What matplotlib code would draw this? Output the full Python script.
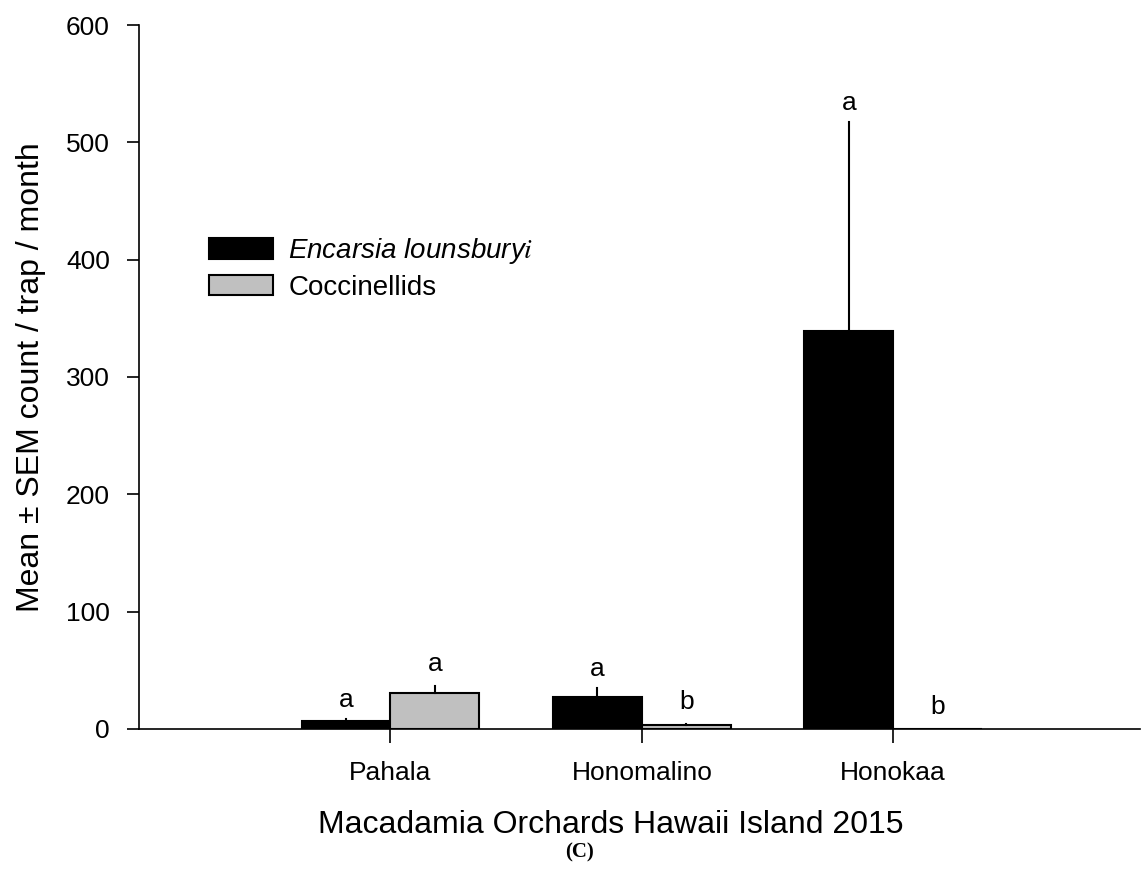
import numpy as np
import matplotlib.pyplot as plt
from matplotlib.patches import Patch

plt.rcParams["font.family"] = ["Liberation Sans", "DejaVu Sans"]
plt.rcParams["mathtext.fontset"] = "stix"

sites = ["Pahala", "Honomalino", "Honokaa"]
encarsia_mean = [7, 27, 339]
encarsia_sem = [1.5, 8, 178]
cocci_mean = [31, 3, 0]
cocci_sem = [6, 1, 0]
encarsia_letters = ["a", "a", "a"]
cocci_letters = ["a", "b", "b"]

x = np.arange(1, len(sites) + 1)
width = 0.353

fig = plt.figure(figsize=(11.41, 8.93), dpi=100)
ax = fig.add_axes([0.1218, 0.1837, 0.877, 0.7883])

ax.bar(x - width / 2, encarsia_mean, width, color="black", edgecolor="black",
       linewidth=1.5)
ax.bar(x + width / 2, cocci_mean, width, color="#c0c0c0", edgecolor="black",
       linewidth=1.5)

# one-sided error bars (upper only), no caps
for xi, m, s in zip(x - width / 2, encarsia_mean, encarsia_sem):
    ax.plot([xi, xi], [m, m + s], color="black", linewidth=1.5)
for xi, m, s in zip(x + width / 2, cocci_mean, cocci_sem):
    if s > 0:
        ax.plot([xi, xi], [m, m + s], color="black", linewidth=1.5)

for xi, m, s, t in zip(x - width / 2, encarsia_mean, encarsia_sem, encarsia_letters):
    ax.annotate(t, (xi, m + s), xytext=(0, 7), textcoords="offset pixels",
                ha="center", va="bottom", fontsize=19)
for xi, m, s, t in zip(x + width / 2, cocci_mean, cocci_sem, cocci_letters):
    ax.annotate(t, (xi, m + s), xytext=(0, 10), textcoords="offset pixels",
                ha="center", va="bottom", fontsize=19)

ax.set_xlim(0, 3.98)
ax.set_ylim(0, 600)
ax.set_yticks(np.arange(0, 601, 100))
ax.tick_params(axis="y", direction="out", length=9, width=1.2, labelsize=19, pad=12)

ax.set_xticks(x)
ax.set_xticklabels(sites)
ax.tick_params(axis="x", direction="out", length=10, width=1.2, labelsize=19, pad=13)

ax.spines["top"].set_visible(False)
ax.spines["right"].set_visible(False)
ax.spines["left"].set_linewidth(1.2)
ax.spines["bottom"].set_linewidth(1.2)

ax.set_ylabel("Mean ± SEM count / trap / month", fontsize=23, labelpad=14)
fig.text(0.535, 0.076, "Macadamia Orchards Hawaii Island 2015", ha="center",
         va="center", fontsize=23)
fig.text(0.508, 0.045, "(C)", ha="center", va="center", fontsize=15,
         family="Liberation Serif", weight="bold")

handles = [Patch(facecolor="black", edgecolor="black", linewidth=1.5),
           Patch(facecolor="#c0c0c0", edgecolor="black", linewidth=1.5)]
leg = ax.legend(handles, [r"Encarsia lounsbury$i$", "Coccinellids"],
                loc="upper left", bbox_to_anchor=(0.07, 0.70), frameon=False,
                fontsize=20, handlelength=2.3, handleheight=0.75,
                handletextpad=0.55, labelspacing=0.3, borderpad=0,
                borderaxespad=0)
leg.get_texts()[0].set_style("italic")

fig.savefig("out.png", dpi=100)
